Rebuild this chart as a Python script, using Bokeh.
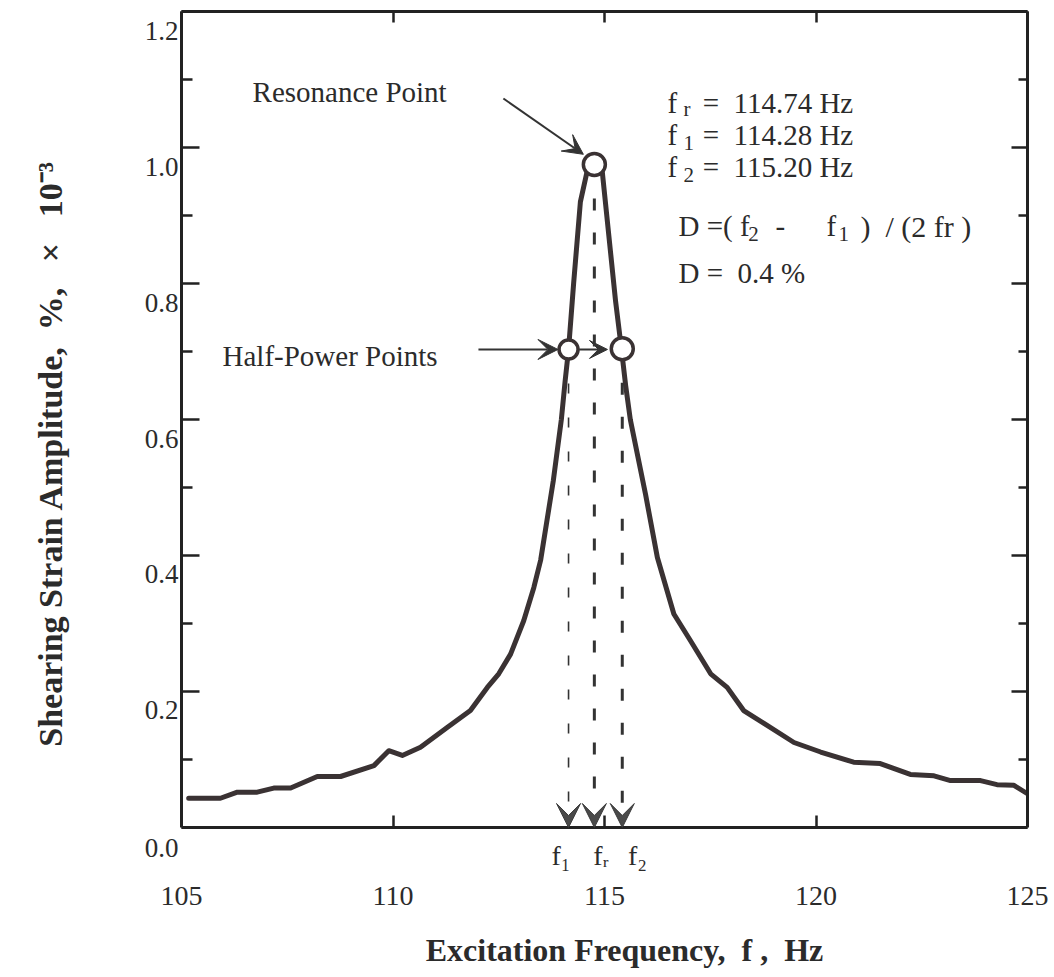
from bokeh.plotting import figure
from bokeh.models import Label, Arrow, VeeHead, LinearAxis, FixedTicker, Range1d
from bokeh.embed import file_html
from bokeh.resources import INLINE

# ---------------- data ----------------
freq = [105.17, 105.92, 106.32, 106.79, 107.18, 107.58, 108.21, 108.76, 109.55, 109.90,
        110.22, 110.65, 111.28, 111.83, 112.23, 112.50, 112.78, 113.09, 113.33, 113.49,
        113.79, 113.98, 114.07, 114.15, 114.27, 114.43, 114.60, 114.76, 114.95, 115.09,
        115.26, 115.40, 115.50, 115.61, 115.97, 116.25, 116.64, 117.03, 117.51, 117.90,
        118.29, 118.77, 119.48, 120.11, 120.89, 121.52, 122.23, 122.79, 123.18, 123.89,
        124.28, 124.68, 124.99]
amp = [0.043, 0.043, 0.052, 0.052, 0.058, 0.058, 0.075, 0.075, 0.091, 0.113,
       0.106, 0.118, 0.147, 0.172, 0.206, 0.226, 0.255, 0.304, 0.353, 0.393,
       0.510, 0.600, 0.657, 0.703, 0.800, 0.920, 0.968, 0.975, 0.963, 0.878,
       0.775, 0.704, 0.650, 0.600, 0.490, 0.397, 0.314, 0.275, 0.226, 0.206,
       0.172, 0.153, 0.125, 0.111, 0.096, 0.094, 0.078, 0.076, 0.069, 0.069,
       0.063, 0.062, 0.050]

# marked points (half-power f1, resonance fr, half-power f2) as drawn
mark_freq = [114.15, 114.76, 115.42]
mark_amp = [0.703, 0.975, 0.704]
mark_size = [19, 22, 22]

# labels under the axis for the marked frequencies
f_label_pos = [113.97, 114.92, 115.78]
f_label_text = ["f\u2081", "f\u1d63", "f\u2082"]

x_ticks = [105, 110, 115, 120, 125]
x_tick_labels = ["105", "110", "115", "120", "125"]
x_inner_ticks = [110, 115, 120]
y_ticks = [0.0, 0.2, 0.4, 0.6, 0.8, 1.0, 1.2]
y_minor = [0.1, 0.3, 0.5, 0.7, 0.9, 1.1]
y_tick_labels = ["0.0", "0.2", "0.4", "0.6", "0.8", "1.0", "1.2"]

SERIF = "Liberation Serif"
TXT = "#2b2b2b"
AX = "#222222"
CURVE = "#3a3233"
NB = "\u00a0"

# in the original, the y tick labels sit about 19 px below their ticks
Y_LABEL_DROP = 0.028
YLAB_RANGE = (-0.0005, 1.2005)
y_label_pos, y_label_txt = [], []
for v, t in zip(y_ticks, y_tick_labels):
    d = round(v - Y_LABEL_DROP, 4)
    if d >= YLAB_RANGE[0]:
        y_label_pos.append(d)
        y_label_txt.append(t)
    else:  # below the frame: keep the tick and push the text down one line
        y_label_pos.append(v)
        y_label_txt.append("\n" + t)

p = figure(width=1050, height=973, x_range=Range1d(105, 125), y_range=Range1d(0, 1.2),
           output_backend="svg", toolbar_location=None,
           min_border_left=181, min_border_right=23, min_border_top=11, min_border_bottom=146)
p.extra_y_ranges = {"ylab": Range1d(*YLAB_RANGE)}
p.xgrid.visible = False
p.ygrid.visible = False
p.outline_line_color = None
p.background_fill_color = "white"
p.border_fill_color = "white"


def style_axis(ax, ticks, minor, tin, mtin, labels):
    ax.ticker = FixedTicker(ticks=ticks, minor_ticks=minor)
    ax.axis_line_color = AX
    ax.axis_line_width = 3
    ax.major_tick_line_color = AX
    ax.minor_tick_line_color = AX
    ax.major_tick_line_width = 2.5
    ax.minor_tick_line_width = 2.5
    ax.major_tick_in = tin
    ax.major_tick_out = 0
    ax.minor_tick_in = mtin
    ax.minor_tick_out = 0
    if not labels:
        ax.major_label_text_color = None
        ax.major_label_text_font_size = "0px"
        ax.major_label_standoff = 0


# bottom axis: f labels on the first line, frequency numbers on the second
xb = p.xaxis[0]
style_axis(xb, x_ticks + f_label_pos, x_inner_ticks, 0, 12, True)
over = {v: "\n" + t for v, t in zip(x_ticks, x_tick_labels)}
over.update({v: t for v, t in zip(f_label_pos, f_label_text)})
xb.major_label_overrides = over
xb.major_label_text_font = SERIF
xb.major_label_text_font_size = "28px"
xb.major_label_text_color = TXT
xb.major_label_text_line_height = 1.3
xb.major_label_standoff = 12
xb.axis_label = NB * 5 + "Excitation Frequency," + NB + " f ," + NB + " Hz"
xb.axis_label_text_font = SERIF
xb.axis_label_text_font_size = "32px"
xb.axis_label_text_font_style = "bold"
xb.axis_label_text_color = TXT
xb.axis_label_standoff = 18

# left axis: line and ticks only
yl = p.yaxis[0]
style_axis(yl, y_ticks, y_minor, 18, 11, False)

# second left axis carrying the tick labels and the title
ylab = LinearAxis(y_range_name="ylab")
ylab.ticker = FixedTicker(ticks=y_label_pos, minor_ticks=[])
ylab.axis_line_color = None
ylab.major_tick_line_color = None
ylab.minor_tick_line_color = None
ylab.major_tick_in = 0
ylab.major_tick_out = 0
ylab.minor_tick_in = 0
ylab.minor_tick_out = 0
ylab.major_label_overrides = {v: t for v, t in zip(y_label_pos, y_label_txt)}
ylab.major_label_text_font = SERIF
ylab.major_label_text_font_size = "27px"
ylab.major_label_text_line_height = 1.4
ylab.major_label_text_color = TXT
ylab.major_label_standoff = 3
ylab.axis_label = ("Shearing Strain Amplitude," + NB * 2 + "%," + NB * 3 + "\u00d7"
                   + NB * 3 + "10\u207b\u00b3" + NB * 8)
ylab.axis_label_text_font = SERIF
ylab.axis_label_text_font_size = "34px"
ylab.axis_label_text_font_style = "bold"
ylab.axis_label_text_color = TXT
ylab.axis_label_standoff = 73
p.add_layout(ylab, "left")

top = LinearAxis()
style_axis(top, x_ticks, [], 11, 0, False)
p.add_layout(top, "above")
right = LinearAxis()
style_axis(right, y_ticks, y_minor, 16, 9, False)
p.add_layout(right, "right")

# curve
p.line(freq, amp, line_width=5, line_color=CURVE, line_join="round", line_cap="round")

# dashed drop lines with arrowheads
dash_w = [1.6, 3, 3]
dash_pat = ["10 24", "12 22", "12 22"]
for xf, ya, w, d in zip(mark_freq, mark_amp, dash_w, dash_pat):
    p.segment(x0=[xf], y0=[ya], x1=[xf], y1=[0.03], line_width=w, line_color="#333333",
              line_dash=d)
    p.add_layout(Arrow(x_start=xf, y_start=0.035, x_end=xf, y_end=0.0, line_alpha=0,
                       end=VeeHead(size=24, fill_color="#4a4a4a", line_color="#3a3a3a",
                                   line_width=1)))

# circles
p.scatter(mark_freq, mark_amp, size=mark_size, marker="circle", fill_color="white",
          line_color=CURVE, line_width=3.5)

# pointer arrows
p.add_layout(Arrow(x_start=112.61, y_start=1.072, x_end=114.50, y_end=0.990,
                   line_width=2, line_color="#333333",
                   end=VeeHead(size=20, fill_color="#333333", line_color="#333333")))
p.add_layout(Arrow(x_start=112.02, y_start=0.703, x_end=113.90, y_end=0.703,
                   line_width=2, line_color="#333333",
                   end=VeeHead(size=20, fill_color="#333333", line_color="#333333")))
p.add_layout(Arrow(x_start=114.40, y_start=0.703, x_end=115.07, y_end=0.703,
                   line_width=2, line_color="#333333",
                   end=VeeHead(size=18, fill_color="#333333", line_color="#333333")))


def lab(x, y, text, size, **kw):
    kw.setdefault("text_color", TXT)
    kw.setdefault("text_font", SERIF)
    kw.setdefault("text_baseline", "alphabetic")
    p.add_layout(Label(x=x, y=y, text=text, text_font_size=f"{size}px", **kw))


# annotation texts
lab(106.68, 1.082, "Resonance Point", 29)
lab(105.97, 0.693, "Half-Power Points", 29)

block_y = [1.066, 1.019, 0.972]
block_sub_y = [1.056, 1.007, 0.959]
block_sub = ["r", "1", "2"]
block_val = ["=" + NB + " 114.74 Hz", "=" + NB + " 114.28 Hz", "=" + NB + " 115.20 Hz"]
for by, sy, s, v in zip(block_y, block_sub_y, block_sub, block_val):
    lab(116.49, by, "f", 29)
    lab(116.87, sy, s, 21)
    lab(117.32, by, v, 29)

lab(116.75, 0.884, "D =( f", 29)
lab(118.40, 0.873, "2", 21)
lab(119.04, 0.884, "-", 29)
lab(120.25, 0.884, "f", 29)
lab(120.53, 0.873, "1", 21)
lab(121.05, 0.884, ")" + NB + " / (2 fr )", 30)
lab(116.75, 0.816, "D =" + NB + " 0.4 %", 29)

open("out.html", "w").write(file_html(p, INLINE))
